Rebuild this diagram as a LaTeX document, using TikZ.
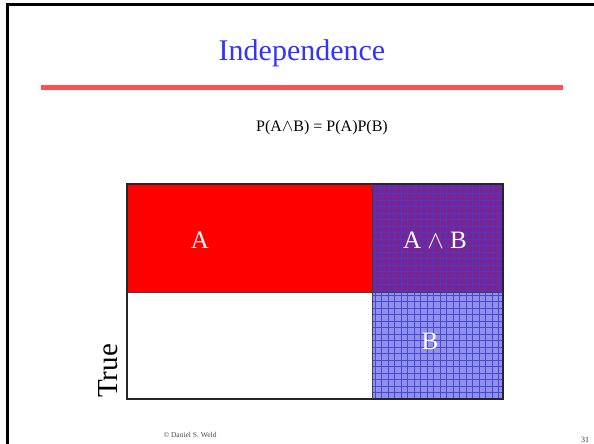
\documentclass[tikz,border=0pt]{standalone}
\usepackage{fontspec}
\setmainfont{Liberation Serif}
\definecolor{titleblue}{RGB}{51,51,255}
\definecolor{rulered}{RGB}{255,80,80}
\definecolor{purplebase}{RGB}{125,36,140}
\definecolor{purplegrid}{RGB}{72,56,205}
\definecolor{bluebase}{RGB}{145,145,236}
\definecolor{bluegrid}{RGB}{72,72,215}
\tikzset{
  lbl/.style={text=white, font=\fontsize{25}{25}\selectfont, inner sep=0pt, anchor=base},
  gridlines/.style={line width=0.6pt},
}
\begin{document}
\begin{tikzpicture}[x=1pt,y=-1pt]
\useasboundingbox (0,0) rectangle (594,444);
\fill[white] (0,0) rectangle (594,444);
% frame
\draw[line width=3pt] (7.5,444) -- (7.5,5) -- (594,5);
% title
\node[text=titleblue, font=\fontsize{30}{30}\selectfont, inner sep=0pt, anchor=base] (title) at (302,61) {Independence};
\draw[rulered, line width=4.2pt] (41,87.5) -- (563,87.5);
% formula
\node[font=\fontsize{16}{16}\selectfont, inner sep=0pt, anchor=base] (formula) at (322,131) {P(A$\mathord{\wedge}$B) = P(A)P(B)};
% regions
\fill[red] (127,184) rectangle (372,292);
\fill[purplebase] (372,184) rectangle (503,292);
\fill[bluebase] (372,292) rectangle (503,399);
\begin{scope}
  \clip (372,184) rectangle (503,292);
  \foreach \i in {0,...,20} {\draw[purplegrid, gridlines] (375+\i*6.5,184) -- (375+\i*6.5,292);}
  \foreach \j in {0,...,17} {\draw[purplegrid, gridlines] (372,187+\j*6.5) -- (503,187+\j*6.5);}
\end{scope}
\begin{scope}
  \clip (372,292) rectangle (503,399);
  \foreach \i in {0,...,20} {\draw[bluegrid, gridlines] (375+\i*6.5,292) -- (375+\i*6.5,399);}
  \foreach \j in {0,...,17} {\draw[bluegrid, gridlines] (372,295+\j*6.5) -- (503,295+\j*6.5);}
\end{scope}
\draw[black!85, line width=1.2pt] (127,184) rectangle (503,399);
\draw[black!75, line width=1pt] (127,292) -- (503,292);
\draw[black!75, line width=1pt] (372,184) -- (372,399);
% labels
\node[lbl] (la) at (200,248) {A};
\node[lbl] (lab) at (435,248) {A $\wedge$ B};
\node[lbl] (lb) at (430,349) {B};
\node[font=\fontsize{29}{29}\selectfont, inner sep=0pt, anchor=base west, rotate=90] (true) at (117,398) {True};
% footer
\node[text=black!70, font=\fontsize{7.5}{7.5}\selectfont, inner sep=0pt, anchor=base] (copy) at (190,437) {© Daniel S. Weld};
\node[text=black!80, font=\fontsize{8}{8}\selectfont, inner sep=0pt, anchor=base] (page) at (585,442) {31};
\end{tikzpicture}
\end{document}
